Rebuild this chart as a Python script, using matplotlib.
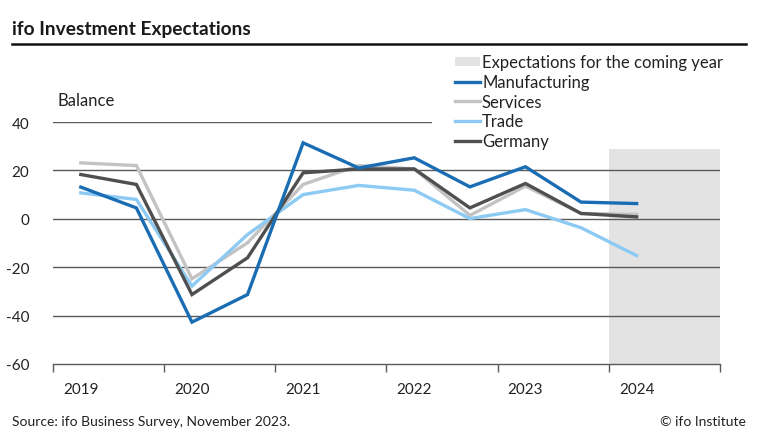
import matplotlib
matplotlib.use("Agg")
import matplotlib.pyplot as plt
from matplotlib.patches import Rectangle, Patch
from matplotlib.lines import Line2D

plt.rcParams['font.family'] = ['Lato', 'DejaVu Sans']

# Survey dates (spring / autumn of each year)
x_dates = [2019.25, 2019.75, 2020.25, 2020.75, 2021.25, 2021.75,
           2022.25, 2022.75, 2023.25, 2023.75, 2024.25]
manufacturing = [13.1, 4.5, -42.7, -31.3, 31.4, 21.0, 25.2, 13.2, 21.5, 6.9, 6.3]
services = [23.1, 22.0, -24.8, -9.9, 14.2, 22.0, 20.6, 1.4, 13.5, 2.2, 1.8]
trade = [10.7, 8.0, -27.8, -6.5, 10.0, 13.8, 11.8, 0.1, 3.8, -3.7, -15.2]
germany = [18.3, 14.2, -31.3, -16.1, 19.0, 20.6, 20.6, 4.5, 14.6, 2.2, 0.8]

year_labels = ["2019", "2020", "2021", "2022", "2023", "2024"]
y_ticks = [40, 20, 0, -20, -40, -60]
forecast_span = (2024, 2025)
forecast_top = 29

W, H = 758, 435
fig = plt.figure(figsize=(W / 100, H / 100), dpi=100)
ax = fig.add_axes([53 / W, 70 / H, (720 - 53) / W, (365 - 123) / H])
ax.set_xlim(2019, 2025)
ax.set_ylim(-60, 40)

# forecast shading
ax.add_patch(Rectangle((forecast_span[0], -60), forecast_span[1] - forecast_span[0],
                       forecast_top + 60, facecolor='#e3e3e3', edgecolor='none',
                       zorder=0, clip_on=False))

# gridlines
for yv in y_ticks[:-1]:
    ax.axhline(yv, color='#5a5a5a', lw=1.0, zorder=1)

colors = {'Manufacturing': '#1a6db3', 'Services': '#c3c3c3',
          'Trade': '#8dcaf3', 'Germany': '#4f4f4f'}
lw = 2.4
ax.plot(x_dates, services, color=colors['Services'], lw=lw, zorder=3, solid_joinstyle='miter')
ax.plot(x_dates, trade, color=colors['Trade'], lw=lw, zorder=4, solid_joinstyle='miter')
ax.plot(x_dates, germany, color=colors['Germany'], lw=lw, zorder=5, solid_joinstyle='miter')
ax.plot(x_dates, manufacturing, color=colors['Manufacturing'], lw=lw, zorder=6, solid_joinstyle='miter')

for s in ['top', 'right', 'left']:
    ax.spines[s].set_visible(False)
ax.spines['bottom'].set_color('#5a5a5a')
ax.spines['bottom'].set_linewidth(1.0)

ax.set_yticks(y_ticks)
ax.set_yticklabels([str(v) for v in y_ticks], fontsize=11, color='#222222')
ax.tick_params(axis='y', length=0, pad=17)

ax.set_xticks(range(2019, 2026))
ax.set_xticklabels([])
ax.tick_params(axis='x', which='major', length=6, color='#5a5a5a', width=1.0, direction='out')
ax.set_xticks([int(y) + 0.25 for y in year_labels], minor=True)
ax.set_xticklabels(year_labels, minor=True, fontsize=11, color='#222222')
ax.tick_params(axis='x', which='minor', length=0, pad=13)

# Balance label
fig.text(57 / W, 1 - 101 / H, "Balance", fontsize=12, color='#222222', va='center', ha='left')

# title and rule
fig.text(12 / W, 1 - 30 / H, "ifo Investment Expectations", fontsize=13.8, fontweight='bold',
         color='#1a1a1a', va='center', ha='left')
fig.add_artist(Line2D([12 / W, 746 / W], [1 - 45 / H, 1 - 45 / H], color='#111111', lw=1.8))

# footer
fig.text(12 / W, 1 - 422 / H, "Source: ifo Business Survey, November 2023.", fontsize=10,
         color='#222222', va='center', ha='left')
fig.text(746 / W, 1 - 422 / H, "© ifo Institute", fontsize=10, color='#222222',
         va='center', ha='right')

# white backdrop of the legend block (covers the top gridline)
fig.add_artist(Rectangle((432 / W, 1 - 150 / H), (726 - 432) / W, (150 - 50) / H,
                         transform=fig.transFigure, facecolor='white', edgecolor='none',
                         zorder=2))

handles = [Patch(facecolor='#e3e3e3', edgecolor='none'),
           Line2D([], [], color=colors['Manufacturing'], lw=lw),
           Line2D([], [], color=colors['Services'], lw=lw),
           Line2D([], [], color=colors['Trade'], lw=lw),
           Line2D([], [], color=colors['Germany'], lw=lw)]
labels = ["Expectations for the coming year", "Manufacturing", "Services", "Trade", "Germany"]
leg = fig.legend(handles, labels, loc='upper left', bbox_to_anchor=(452 / W, 1 - 52 / H),
                 frameon=False, fontsize=12, handlelength=1.5, handleheight=0.5,
                 handletextpad=0.1, labelspacing=0.22, borderpad=0.2, borderaxespad=0)
leg.set_zorder(3)
for t in leg.get_texts():
    t.set_color('#222222')

fig.savefig("out.png", dpi=100)
